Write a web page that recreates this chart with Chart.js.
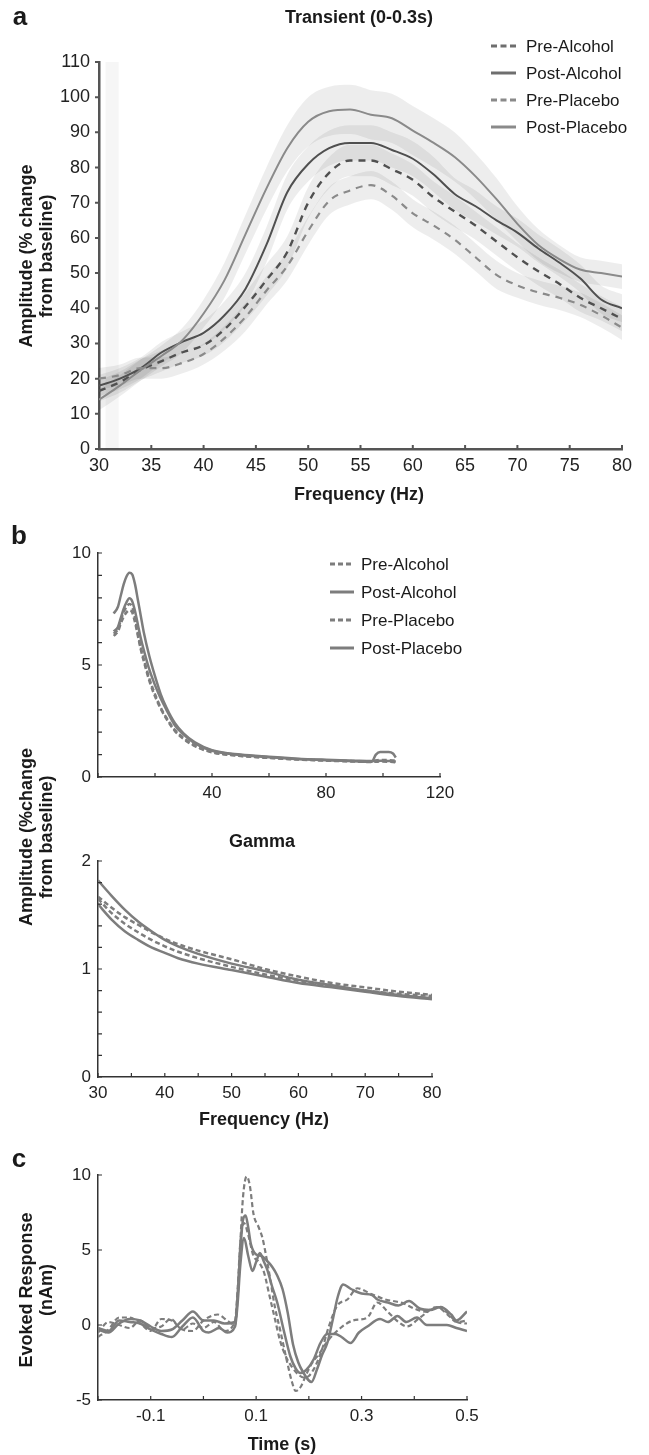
<!DOCTYPE html>
<html>
<head>
<meta charset="utf-8">
<script src="https://cdn.jsdelivr.net/npm/chart.js@4.4.1/dist/chart.umd.min.js"></script>
<style>
html, body { margin: 0; padding: 0; background: #fff; }
#wrap { position: relative; width: 649px; height: 1455px; overflow: hidden; }
canvas { position: absolute; left: 0; }
</style>
</head>
<body>
<div id="wrap">
  <canvas id="panelA" width="649" height="505" style="top:0px"></canvas>
  <canvas id="panelB1" width="649" height="300" style="top:505px"></canvas>
  <canvas id="panelB2" width="649" height="430" style="top:700px"></canvas>
  <canvas id="panelC" width="649" height="325" style="top:1130px"></canvas>
</div>
<script>
// ---- data ----
const seriesNames = ['Pre-Alcohol', 'Post-Alcohol', 'Pre-Placebo', 'Post-Placebo'];

// panel a : transient gamma spectrum (Hz, % change)
const aFreq     = [30, 32, 34, 36, 38, 40, 42, 44, 46, 48, 50, 52, 54, 56, 58, 60, 62, 64, 66, 68, 70, 72, 74, 76, 78, 80];
const aPreAlc   = [16.5, 19, 22.5, 25, 27.5, 29.5, 34, 40.5, 48, 56, 70, 78.5, 82, 82, 79.5, 76.5, 71.5, 67.5, 63.5, 59, 54.5, 50.5, 47, 43, 40, 37];
const aPostAlc  = [18, 20, 23, 27.5, 30.5, 33, 38, 45.5, 58, 73, 81, 85.5, 87, 87, 85, 82.5, 78, 72.5, 69, 65, 61.5, 57, 53, 48.5, 42.5, 40];
const aPrePla   = [20, 21, 23, 23, 24.5, 27, 31.5, 37.5, 45, 52, 62, 70.5, 73.5, 75, 72, 67, 63.5, 59.5, 54.5, 49.5, 46.5, 44.5, 43, 41, 38, 34.5];
const aPostPla  = [14, 18, 22.5, 26.5, 31, 38.5, 48, 61, 74, 85.5, 93, 96, 96.5, 95, 94, 90.5, 87, 83, 77.5, 71, 64, 58, 54, 51, 50, 49];
// half width of the shaded error bands
const aPreAlcCI  = [3, 3, 3, 3, 3, 3, 3.5, 4, 4.5, 4.5, 4.5, 4.5, 4.5, 4.5, 4.5, 4.5, 4.5, 4.5, 4, 4, 4, 4, 4, 4, 3.5, 3.5];
const aPostAlcCI = [3, 3, 3, 3, 3, 3.5, 4, 4.5, 5, 5, 5, 5, 5, 5, 5, 5, 5, 4.5, 4.5, 4, 4, 4, 4, 4, 4, 4];
const aPrePlaCI  = [3, 3, 3, 3, 3, 3, 3.5, 4, 4, 4, 4, 4, 4, 4, 4, 4, 4, 4, 4, 4, 3.5, 3.5, 3.5, 3.5, 3.5, 3.5];
const aPostPlaCI = [3, 3, 3, 3, 3.5, 4, 5, 5.5, 6, 6.5, 7, 7, 7, 7, 7, 7, 7, 7, 6.5, 6, 5, 4.5, 4, 3.5, 3.5, 3.5];
// faint vertical strip at the left edge of panel a
const aStripX = [30.6, 31.9];
const aStripY = [110, 110];

// panel b (top) : full spectrum
const bFreq    = [5.5, 7, 8, 9, 10, 11, 12, 13, 14, 15, 16, 18, 20, 22, 24, 27, 30, 34, 40, 50, 60, 70, 80, 90, 96, 97.5, 99, 102, 103.5, 104.5];
const bPreAlc  = [6.4, 6.6, 7.0, 7.35, 7.6, 7.72, 7.6, 7.1, 6.4, 5.8, 5.3, 4.4, 3.7, 3.1, 2.65, 2.1, 1.75, 1.4, 1.12, 0.95, 0.86, 0.79, 0.74, 0.71, 0.7, 0.74, 0.76, 0.75, 0.74, 0.73];
const bPostAlc = [7.3, 7.6, 8.1, 8.6, 8.95, 9.12, 9.05, 8.6, 7.9, 7.2, 6.5, 5.4, 4.5, 3.7, 3.1, 2.4, 1.95, 1.55, 1.2, 1.0, 0.9, 0.82, 0.77, 0.73, 0.71, 0.72, 0.72, 0.71, 0.7, 0.69];
const bPrePla  = [6.3, 6.5, 6.85, 7.15, 7.35, 7.45, 7.35, 6.9, 6.3, 5.7, 5.2, 4.3, 3.6, 3.05, 2.6, 2.05, 1.7, 1.38, 1.1, 0.94, 0.85, 0.78, 0.73, 0.69, 0.67, 0.68, 0.69, 0.68, 0.67, 0.66];
const bPostPla = [6.5, 6.7, 7.1, 7.5, 7.8, 7.98, 7.85, 7.4, 6.8, 6.2, 5.7, 4.8, 4.1, 3.5, 3.0, 2.3, 1.9, 1.5, 1.17, 0.98, 0.88, 0.8, 0.75, 0.7, 0.68, 1.0, 1.12, 1.12, 1.05, 0.87];

// panel b (bottom) : gamma
const gFreq    = [30, 32, 34, 36, 38, 40, 42, 45, 50, 55, 60, 65, 70, 75, 80];
const gPreAlc  = [1.67, 1.57, 1.48, 1.41, 1.34, 1.28, 1.23, 1.17, 1.09, 1.0, 0.93, 0.87, 0.83, 0.79, 0.76];
const gPostAlc = [1.82, 1.68, 1.55, 1.44, 1.35, 1.27, 1.21, 1.14, 1.05, 0.98, 0.9, 0.85, 0.8, 0.76, 0.73];
const gPrePla  = [1.65, 1.52, 1.42, 1.34, 1.27, 1.21, 1.16, 1.1, 1.02, 0.95, 0.89, 0.84, 0.8, 0.77, 0.75];
const gPostPla = [1.6, 1.46, 1.35, 1.27, 1.2, 1.15, 1.1, 1.05, 0.99, 0.93, 0.87, 0.83, 0.79, 0.75, 0.72];

// panel c : evoked response, [time s, nAm]
const cPreAlc = [[-0.2,-0.8],[-0.18,-0.3],[-0.16,0.5],[-0.14,0.5],[-0.12,0.1],[-0.1,-0.4],[-0.08,0.4],[-0.06,0.3],[-0.04,-0.3],[-0.02,-0.4],[0,0.3],[0.027,0.7],[0.045,0.3],[0.06,0.0],[0.065,2.0],[0.07,5.5],[0.075,8.5],[0.082,9.9],[0.088,9.3],[0.095,7.4],[0.105,6.5],[0.112,5.8],[0.12,4.4],[0.127,3.0],[0.135,1.3],[0.146,-0.4],[0.159,-2.5],[0.168,-3.8],[0.175,-4.4],[0.185,-4.1],[0.195,-3.3],[0.205,-2.6],[0.22,-1.9],[0.235,-1.1],[0.26,-0.2],[0.284,0.3],[0.311,0.5],[0.33,1.5],[0.349,0.9],[0.37,0.2],[0.386,-0.1],[0.411,0.5],[0.443,1.2],[0.46,0.8],[0.481,0.2],[0.5,0.3]];
const cPostAlc = [[-0.2,-0.3],[-0.18,-0.5],[-0.16,0.1],[-0.14,0.4],[-0.12,0.3],[-0.1,-0.1],[-0.08,-0.4],[-0.06,-0.3],[-0.04,0.3],[-0.02,0.9],[0,0.3],[0.02,0.3],[0.04,0.1],[0.06,0.2],[0.065,2.0],[0.07,5.0],[0.075,7.0],[0.08,7.3],[0.085,6.5],[0.09,5.4],[0.1,4.7],[0.11,4.6],[0.12,4.3],[0.13,3.9],[0.14,3.3],[0.15,2.4],[0.16,0.8],[0.17,-1.3],[0.18,-2.5],[0.19,-3.2],[0.2,-3.7],[0.205,-3.8],[0.215,-3.0],[0.225,-2.0],[0.235,-1.2],[0.245,0.3],[0.255,1.9],[0.265,2.7],[0.28,2.4],[0.3,2.1],[0.32,2.0],[0.33,1.7],[0.35,1.5],[0.37,1.3],[0.39,1.6],[0.41,1.1],[0.43,1.0],[0.45,1.2],[0.47,0.7],[0.48,0.3],[0.5,0.9]];
const cPrePla = [[-0.2,-0.5],[-0.18,0.2],[-0.16,0.0],[-0.14,-0.2],[-0.12,0.3],[-0.1,-0.2],[-0.08,-0.1],[-0.062,0.4],[-0.04,-0.3],[-0.02,0.1],[0,-0.2],[0.02,0.2],[0.04,-0.4],[0.06,0.3],[0.065,2.5],[0.07,5.5],[0.077,6.8],[0.085,6.0],[0.095,4.6],[0.105,4.2],[0.115,3.5],[0.125,2.0],[0.135,0.5],[0.145,-1.0],[0.155,-2.0],[0.17,-2.9],[0.18,-3.3],[0.19,-3.5],[0.2,-3.4],[0.21,-2.9],[0.22,-2.1],[0.228,-1.3],[0.237,-0.2],[0.254,1.3],[0.273,1.7],[0.292,2.45],[0.305,2.3],[0.316,2.1],[0.33,1.9],[0.345,1.7],[0.36,1.6],[0.379,1.45],[0.4,1.1],[0.424,0.87],[0.443,1.2],[0.46,0.9],[0.481,0.2],[0.5,0.1]];
const cPostPla = [[-0.2,-0.2],[-0.18,-0.4],[-0.16,0.3],[-0.14,0.2],[-0.12,0.1],[-0.1,-0.3],[-0.08,-0.6],[-0.06,-0.8],[-0.04,-0.1],[-0.02,0.5],[0,-0.4],[0.01,-0.5],[0.03,-0.2],[0.045,-0.5],[0.06,-0.1],[0.065,1.5],[0.07,4.0],[0.077,5.8],[0.085,4.6],[0.093,3.6],[0.1,4.2],[0.107,4.8],[0.115,4.2],[0.121,3.7],[0.13,2.6],[0.14,1.5],[0.152,-0.3],[0.165,-2.1],[0.175,-2.9],[0.184,-3.2],[0.195,-3.0],[0.209,-2.3],[0.222,-1.2],[0.235,-0.6],[0.25,-0.6],[0.262,-0.8],[0.279,-1.2],[0.295,-0.5],[0.311,-0.1],[0.335,0.4],[0.35,0.2],[0.368,0.6],[0.385,0.2],[0.405,0.5],[0.424,0.0],[0.445,0.0],[0.462,0.0],[0.48,-0.2],[0.5,-0.4]];

// tick marks
const aXTicks  = [30, 35, 40, 45, 50, 55, 60, 65, 70, 75, 80];
const aYTicks  = [0, 10, 20, 30, 40, 50, 60, 70, 80, 90, 100, 110];
const b1XTicks = [0, 20, 40, 60, 80, 100, 120];
const b1YTicks = [0, 1, 2, 3, 4, 5, 6, 7, 8, 9, 10];
const b2XTicks = [30, 35, 40, 45, 50, 55, 60, 65, 70, 75, 80];
const b2YTicks = [0, 0.2, 0.4, 0.6, 0.8, 1, 1.2, 1.4, 1.6, 1.8, 2];
const cXTicks  = [-0.2, -0.1, 0, 0.1, 0.2, 0.3, 0.4, 0.5];
const cYTicks  = [-5, 0, 5, 10];
const b1XLabels = [40, 80, 120];
const cXLabels  = [-0.1, 0.1, 0.3, 0.5];

// ---- helpers ----
const FONT = "'Liberation Sans', Arial, Helvetica, sans-serif";
Chart.defaults.font.family = FONT;
Chart.defaults.color = '#222';

const pts = (xs, ys) => xs.map((x, i) => ({ x: x, y: ys[i] }));
const pairs = arr => arr.map(p => ({ x: p[0], y: p[1] }));

function line(data, color, width, dash) {
    return {
        data: data, borderColor: color, borderWidth: width, borderDash: dash || [],
        pointRadius: 0, fill: false, cubicInterpolationMode: 'monotone', order: 0
    };
}

function band(ys, ci) {
    return [
        { data: pts(aFreq, ys.map((v, i) => v - ci[i])), borderColor: 'rgba(0,0,0,0)', borderWidth: 0,
          pointRadius: 0, fill: false, cubicInterpolationMode: 'monotone', order: 10 },
        { data: pts(aFreq, ys.map((v, i) => v + ci[i])), borderColor: 'rgba(0,0,0,0)', borderWidth: 0,
          pointRadius: 0, fill: '-1', backgroundColor: 'rgba(0,0,0,0.07)', cubicInterpolationMode: 'monotone', order: 10 }
    ];
}

function xAxis(min, max, step, height, size, cb, border) {
    return {
        type: 'linear', min: min, max: max,
        ticks: { stepSize: step, autoSkip: false, maxRotation: 0, padding: 6, color: '#222',
                 font: { family: FONT, size: size }, callback: cb || (v => v) },
        grid: { display: false, drawTicks: false },
        border: border,
        afterFit(s) { s.height = height; s.paddingLeft = 0; s.paddingRight = 0; }
    };
}

function yAxis(min, max, step, width, size, border, pad) {
    return {
        type: 'linear', min: min, max: max,
        ticks: { stepSize: step, autoSkip: false, padding: pad || 7, color: '#222', font: { family: FONT, size: size } },
        grid: { display: false, drawTicks: false },
        border: border,
        afterFit(s) { s.width = width; s.paddingTop = 0; s.paddingBottom = 0; }
    };
}

// ticks, texts and legend drawn on top
const decorPlugin = {
    id: 'decor',
    afterDraw(chart, args, o) {
        if (!o || !o.xTicks) return;
        const ctx = chart.ctx, xs = chart.scales.x, ys = chart.scales.y, area = chart.chartArea;
        ctx.save();
        ctx.strokeStyle = o.tickColor;
        ctx.lineWidth = o.tickWidth;
        ctx.beginPath();
        o.xTicks.forEach(v => {
            const px = xs.getPixelForValue(v);
            ctx.moveTo(px, area.bottom);
            ctx.lineTo(px, area.bottom - o.tickLen);
        });
        const yDir = o.yOut ? -1 : 1;
        o.yTicks.forEach(v => {
            const py = ys.getPixelForValue(v);
            ctx.moveTo(area.left, py);
            ctx.lineTo(area.left + yDir * o.tickLen, py);
        });
        ctx.stroke();

        ctx.fillStyle = '#1a1a1a';
        ctx.textBaseline = 'middle';
        (o.texts || []).forEach(t => {
            ctx.save();
            ctx.font = t.font;
            ctx.textAlign = 'center';
            ctx.translate(t.x, t.y);
            if (t.rot) ctx.rotate(-Math.PI / 2);
            ctx.fillText(t.text, 0, 0);
            ctx.restore();
        });

        if (o.legend) {
            const L = o.legend;
            L.items.forEach((it, i) => {
                const y = L.y0 + i * L.dy;
                ctx.strokeStyle = it.color;
                ctx.lineWidth = L.lw;
                ctx.setLineDash(it.dash);
                ctx.beginPath();
                ctx.moveTo(L.x0, y);
                ctx.lineTo(L.x1, y);
                ctx.stroke();
                ctx.setLineDash([]);
                ctx.font = L.font;
                ctx.textAlign = 'left';
                ctx.fillStyle = '#1a1a1a';
                ctx.fillText(it.label, L.tx, y + 1);
            });
        }
        ctx.restore();
    }
};
Chart.register(decorPlugin);

const baseOpts = {
    responsive: false, animation: false, devicePixelRatio: 1,
    events: [],
    elements: { point: { radius: 0 } }
};

// ---- panel a ----
const DARK = '#505050', LIGHT = '#8a8a8a';
const aBorder = { display: true, color: '#555', width: 2.5 };
new Chart(document.getElementById('panelA').getContext('2d'), {
    type: 'line',
    data: {
        datasets: [
            { data: pts(aStripX, aStripY), borderColor: 'rgba(0,0,0,0)', borderWidth: 0, pointRadius: 0,
              fill: 'origin', backgroundColor: 'rgba(0,0,0,0.035)', order: 20 },
            ...band(aPostPla, aPostPlaCI),
            ...band(aPostAlc, aPostAlcCI),
            ...band(aPreAlc, aPreAlcCI),
            ...band(aPrePla, aPrePlaCI),
            line(pts(aFreq, aPrePla), LIGHT, 2.2, [7, 6]),
            line(pts(aFreq, aPostPla), LIGHT, 2),
            line(pts(aFreq, aPreAlc), DARK, 2.4, [7, 6]),
            line(pts(aFreq, aPostAlc), DARK, 2)
        ]
    },
    options: {
        ...baseOpts,
        layout: { padding: { top: 62, right: 27, bottom: 0, left: 0 } },
        scales: {
            x: xAxis(30, 80, 5, 56, 18, null, aBorder),
            y: yAxis(0, 110, 10, 99, 18, aBorder, 9)
        },
        plugins: {
            legend: { display: false }, tooltip: { enabled: false },
            decor: {
                xTicks: aXTicks, yTicks: aYTicks, tickLen: 4, tickColor: '#555', tickWidth: 2, yOut: true,
                texts: [
                    { text: 'a', x: 20, y: 18, font: 'bold 26px ' + FONT },
                    { text: 'Transient (0-0.3s)', x: 359, y: 18, font: 'bold 18px ' + FONT },
                    { text: 'Frequency (Hz)', x: 359, y: 495, font: 'bold 18px ' + FONT },
                    { text: 'Amplitude (% change', x: 27, y: 256, rot: true, font: 'bold 18px ' + FONT },
                    { text: 'from baseline)', x: 47, y: 256, rot: true, font: 'bold 18px ' + FONT }
                ],
                legend: {
                    x0: 491, x1: 516, tx: 526, y0: 46, dy: 27, lw: 3, font: '17px ' + FONT,
                    items: [
                        { label: seriesNames[0], color: '#6e6e6e', dash: [6, 3.5] },
                        { label: seriesNames[1], color: '#6e6e6e', dash: [] },
                        { label: seriesNames[2], color: '#8a8a8a', dash: [6, 3.5] },
                        { label: seriesNames[3], color: '#8a8a8a', dash: [] }
                    ]
                }
            }
        }
    }
});

// ---- panel b top ----
const GREY = '#7d7d7d';
const bBorder = { display: true, color: '#333', width: 1.5 };
new Chart(document.getElementById('panelB1').getContext('2d'), {
    type: 'line',
    data: {
        datasets: [
            line(pts(bFreq, bPreAlc), GREY, 2.5, [5, 3]),
            line(pts(bFreq, bPrePla), GREY, 2.5, [5, 3]),
            line(pts(bFreq, bPostPla), GREY, 2.5),
            line(pts(bFreq, bPostAlc), GREY, 2.5)
        ]
    },
    options: {
        ...baseOpts,
        layout: { padding: { top: 48, right: 209, bottom: 0, left: 0 } },
        scales: {
            x: xAxis(0, 120, 20, 28, 17, v => (b1XLabels.includes(v) ? v : ''), bBorder),
            y: yAxis(0, 10, 5, 98, 17, bBorder)
        },
        plugins: {
            legend: { display: false }, tooltip: { enabled: false },
            decor: {
                xTicks: b1XTicks, yTicks: b1YTicks, tickLen: 4, tickColor: '#333', tickWidth: 1.2,
                texts: [
                    { text: 'b', x: 19, y: 32, font: 'bold 26px ' + FONT }
                ],
                legend: {
                    x0: 330, x1: 354, tx: 361, y0: 59, dy: 28, lw: 3, font: '17px ' + FONT,
                    items: [
                        { label: seriesNames[0], color: GREY, dash: [5, 3] },
                        { label: seriesNames[1], color: GREY, dash: [] },
                        { label: seriesNames[2], color: GREY, dash: [5, 3] },
                        { label: seriesNames[3], color: GREY, dash: [] }
                    ]
                }
            }
        }
    }
});

// ---- panel b bottom (gamma) ----
new Chart(document.getElementById('panelB2').getContext('2d'), {
    type: 'line',
    data: {
        datasets: [
            line(pts(gFreq, gPreAlc), GREY, 2.5, [5, 3]),
            line(pts(gFreq, gPrePla), GREY, 2.5, [5, 3]),
            line(pts(gFreq, gPostAlc), GREY, 2.5),
            line(pts(gFreq, gPostPla), GREY, 2.5)
        ]
    },
    options: {
        ...baseOpts,
        layout: { padding: { top: 161, right: 217, bottom: 0, left: 0 } },
        scales: {
            x: xAxis(30, 80, 10, 53, 17, null, bBorder),
            y: yAxis(0, 2, 1, 98, 17, bBorder)
        },
        plugins: {
            legend: { display: false }, tooltip: { enabled: false },
            decor: {
                xTicks: b2XTicks, yTicks: b2YTicks, tickLen: 4, tickColor: '#333', tickWidth: 1.2,
                texts: [
                    { text: 'Gamma', x: 262, y: 142, font: 'bold 18px ' + FONT },
                    { text: 'Frequency (Hz)', x: 264, y: 420, font: 'bold 18px ' + FONT },
                    { text: 'Amplitude (%change', x: 27, y: 137, rot: true, font: 'bold 18px ' + FONT },
                    { text: 'from baseline)', x: 47, y: 137, rot: true, font: 'bold 18px ' + FONT }
                ]
            }
        }
    }
});

// ---- panel c ----
new Chart(document.getElementById('panelC').getContext('2d'), {
    type: 'line',
    data: {
        datasets: [
            line(pairs(cPreAlc), GREY, 2.2, [5, 3]),
            line(pairs(cPrePla), GREY, 2.2, [5, 3]),
            line(pairs(cPostAlc), GREY, 2.5),
            line(pairs(cPostPla), GREY, 2.5)
        ]
    },
    options: {
        ...baseOpts,
        layout: { padding: { top: 45, right: 182, bottom: 0, left: 0 } },
        scales: {
            x: xAxis(-0.2, 0.5, 0.1, 55, 17, v => {
                const r = Math.round(v * 10) / 10;
                return cXLabels.includes(r) ? r.toFixed(1) : '';
            }, bBorder),
            y: yAxis(-5, 10, 5, 98, 17, bBorder)
        },
        plugins: {
            legend: { display: false }, tooltip: { enabled: false },
            decor: {
                xTicks: cXTicks, yTicks: cYTicks, tickLen: 4, tickColor: '#333', tickWidth: 1.2,
                texts: [
                    { text: 'c', x: 19, y: 30, font: 'bold 26px ' + FONT },
                    { text: 'Time (s)', x: 282, y: 315, font: 'bold 18px ' + FONT },
                    { text: 'Evoked Response', x: 27, y: 160, rot: true, font: 'bold 18px ' + FONT },
                    { text: '(nAm)', x: 47, y: 160, rot: true, font: 'bold 18px ' + FONT }
                ]
            }
        }
    }
});
</script>
</body>
</html>
